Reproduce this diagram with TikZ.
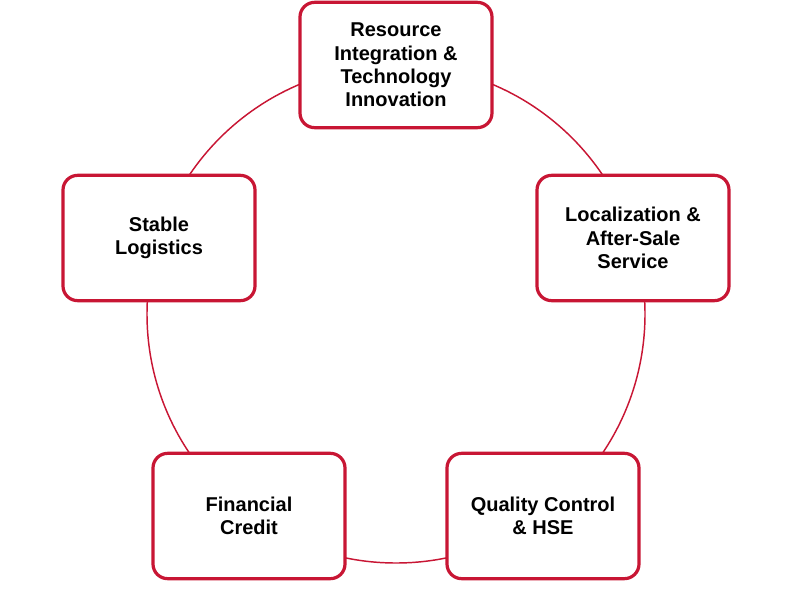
\documentclass[tikz,border=0pt]{standalone}
\usepackage{fontspec}
\setmainfont{Liberation Sans}
\usepackage{tikz}
\definecolor{crimson}{RGB}{200,22,52}

\begin{document}
\begin{tikzpicture}[x=0.75pt,y=0.75pt,yscale=-1,xscale=1,
  pillar/.style={draw=crimson, line width=2.4pt, fill=white, rounded corners=11pt,
    minimum width=144pt, minimum height=94pt, align=center, inner sep=2pt,
    font=\bfseries\fontsize{15}{17.5}\selectfont}]
\useasboundingbox (0,0) rectangle (792,589);

%Circle
\draw [color=crimson, line width=1.1pt] (396,314) circle [radius=249];

% Text Nodes
\node [pillar] (rti) at (396,65) {Resource\\Integration \&\\Technology\\Innovation};
\node [pillar] (loc) at (633,238) {Localization \&\\After-Sale\\Service};
\node [pillar] (qc) at (543,516) {Quality Control\\\& HSE};
\node [pillar] (fin) at (249,516) {Financial\\Credit};
\node [pillar] (log) at (159,238) {Stable\\Logistics};

\end{tikzpicture}
\end{document}
